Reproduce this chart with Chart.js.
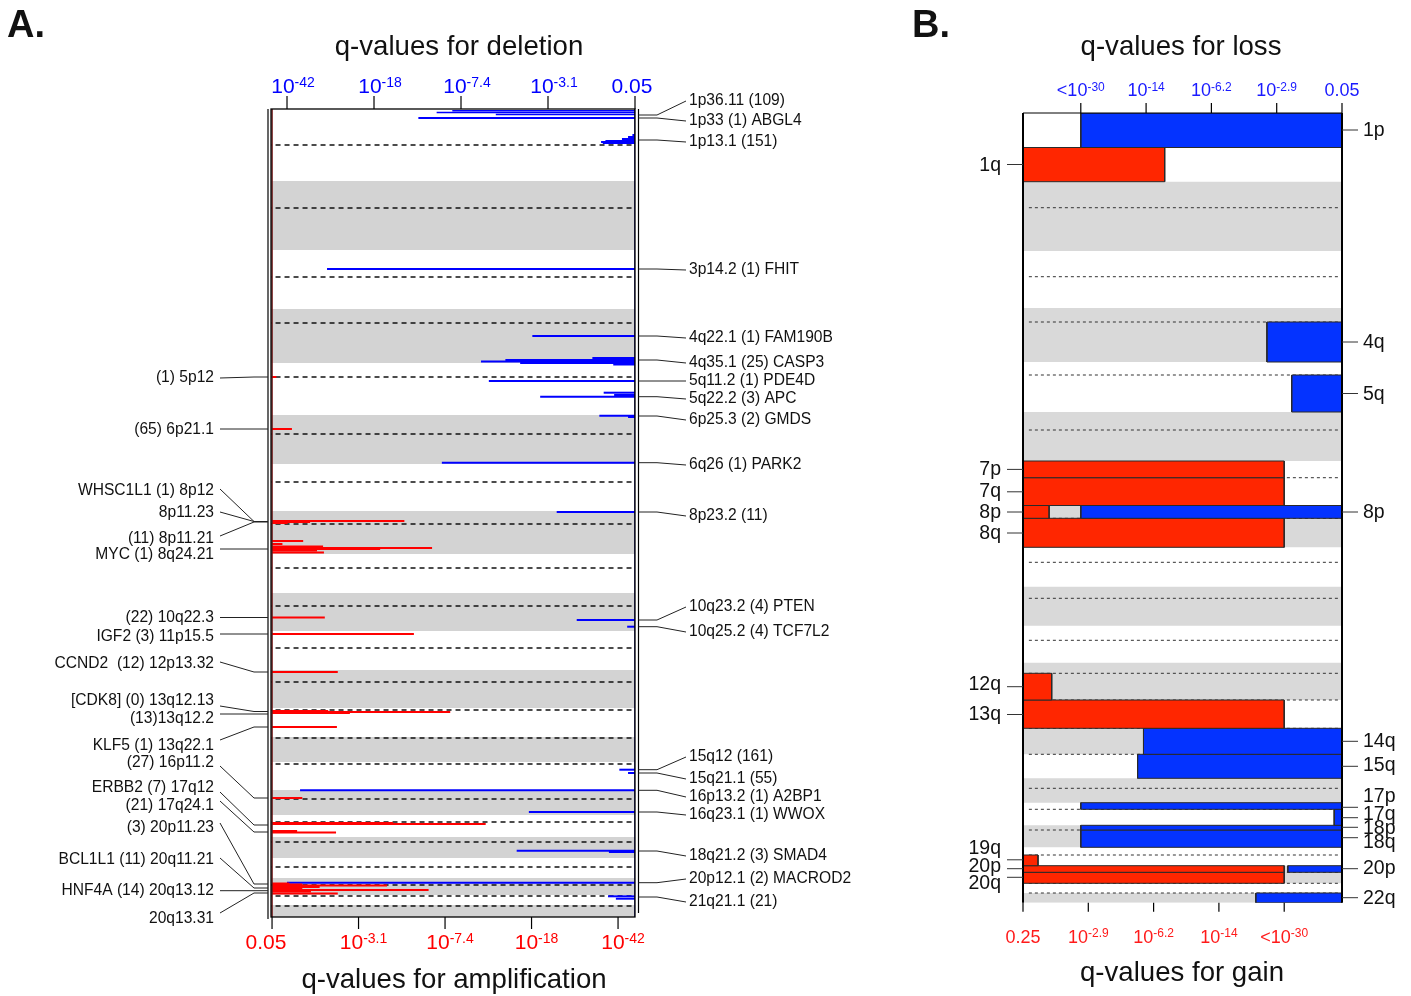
<!DOCTYPE html>
<html>
<head>
<meta charset="utf-8">
<script src="https://cdn.jsdelivr.net/npm/chart.js@4.4.1/dist/chart.umd.min.js"></script>
<style>
  body { margin: 0; background: #fff; width: 1411px; height: 996px; position: relative; overflow: hidden; }
  canvas { position: absolute; top: 0; }
  #panelA { left: 0; }
  #panelB { left: 905px; }
</style>
</head>
<body>
<canvas id="panelA" width="905" height="996"></canvas>
<canvas id="panelB" width="506" height="996"></canvas>
<script>
const FONT = '"Liberation Sans", Arial, Helvetica, sans-serif';

// ---------- Panel A: focal peaks (genome track units, top = chr1p) ----------
const bandEdgesA = [0, 72, 141, 200, 254, 306, 355, 402, 445, 484, 522, 561, 599, 628, 653, 681, 706, 728, 749, 769, 786, 796, 808];
const centromereA = [36, 99, 168, 214, 268, 325, 373, 415, 459, 497, 539, 573, 601, 629, 655, 690, 713, 733, 758, 776, 787, 797];

// amplification peaks: position along genome, q-value on transformed axis (0 = 0.05 ... 4 = 1e-42)
const ampPos = [268, 320, 412, 413, 414, 432, 435, 437.5, 439, 440, 441.5, 443.5, 508.5, 525, 563, 602, 603, 604, 618, 689, 714, 715, 722, 723.5, 774.5, 775.5, 776.5, 778, 779.5, 781, 782.5, 784.5];
const ampQ = [0.05, 0.23, 1.53, 0.44, 0.18, 0.36, 0.12, 0.59, 1.85, 1.25, 0.52, 0.60, 0.61, 1.64, 0.76, 0.65, 2.06, 0.90, 0.75, 0.35, 1.40, 2.47, 0.29, 0.74, 0.20, 0.35, 1.33, 0.55, 0.35, 1.81, 0.45, 0.76];

// deletion peaks
const delPos = [1.7, 3.5, 5.5, 9, 26, 28, 30, 32, 33, 34, 160, 227, 249, 250, 251, 252.5, 254, 255.5, 272, 283.7, 286, 287.7, 306.7, 308, 353.7, 403, 511, 517.7, 660.7, 664, 681.3, 703, 741.7, 743, 773.7, 787.3, 789.7];
const delQ = [2.10, 2.28, 1.60, 2.49, 0.03, 0.08, 0.15, 0.34, 0.39, 0.37, 3.54, 1.18, 0.49, 0.40, 1.49, 1.77, 1.32, 0.25, 1.68, 0.36, 0.24, 1.09, 0.41, 0.08, 2.22, 0.90, 0.67, 0.09, 0.18, 0.08, 3.85, 1.22, 1.36, 0.30, 4.00, 0.31, 0.22];

const ampTickVals = [0, 1, 2, 3, 4];
const ampTickText = ['0.05', '10^-3.1', '10^-7.4', '10^-18', '10^-42'];
const delTickVals = [0, 1, 2, 3, 4];
const delTickText = ['0.05', '10^-3.1', '10^-7.4', '10^-18', '10^-42'];

const ampLabelText = ['(1) 5p12', '(65) 6p21.1', 'WHSC1L1 (1) 8p12', '8p11.23', '(11) 8p11.21', 'MYC (1) 8q24.21', '(22) 10q22.3', 'IGF2 (3) 11p15.5', 'CCND2  (12) 12p13.32', '[CDK8] (0) 13q12.13', '(13)13q12.2', 'KLF5 (1) 13q22.1', '(27) 16p11.2', 'ERBB2 (7) 17q12', '(21) 17q24.1', '(3) 20p11.23', 'BCL1L1 (11) 20q11.21', 'HNF4A (14) 20q13.12', '20q13.31'];
const ampLabelY = [269, 321, 381.7, 404, 430, 446, 509, 528, 555, 591.7, 610, 637, 653.7, 679, 697, 719, 751, 781.7, 810];
const ampLeadY = [269, 320, 380, 403, 427, 440, 508.5, 525, 553, 597, 605, 631, 657, 683, 692, 714, 749, 781.7, 804];
const ampPeakY = [268, 320, 412.5, 412.5, 413, 440, 508.5, 525, 563, 602.5, 605, 618, 689, 716, 723, 775, 779, 781.7, 784];

const delLabelText = ['1p36.11 (109)', '1p33 (1) ABGL4', '1p13.1 (151)', '3p14.2 (1) FHIT', '4q22.1 (1) FAM190B', '4q35.1 (25) CASP3', '5q11.2 (1) PDE4D', '5q22.2 (3) APC', '6p25.3 (2) GMDS', '6q26 (1) PARK2', '8p23.2 (11)', '10q23.2 (4) PTEN', '10q25.2 (4) TCF7L2', '15q12 (161)', '15q21.1 (55)', '16p13.2 (1) A2BP1', '16q23.1 (1) WWOX', '18q21.2 (3) SMAD4', '20p12.1 (2) MACROD2', '21q21.1 (21)'];
const delLabelY = [-8, 12, 33, 161, 229, 254, 272, 290, 311, 356, 407, 498, 523, 648, 670, 688, 706, 747, 770, 793];
const delPeakY = [6, 9, 31, 160, 227, 251, 272, 287.7, 307, 353.7, 403, 511, 517.7, 660.7, 664, 681.3, 703, 742, 773.7, 788];

// ---------- Panel B: arm-level events ----------
const bandEdgesB = [0, 68.7, 138, 195, 249, 299, 348, 392.5, 434.3, 473.7, 512.7, 549.7, 587, 615.3, 641.3, 665.3, 689.7, 712.3, 734.3, 752.7, 770.3, 780, 789.7];
const centromereB = [34.5, 94.7, 163.7, 209, 262, 317, 364.7, 405.3, 449.3, 485.3, 527.3, 560.3, 587, 615.3, 641.3, 675.3, 696.3, 717, 742, 759.3, 770.3, 780];

const armNames = ['1p', '1q', '4q', '5q', '7p', '7q', '8p', '8q', '12q', '13q', '14q', '15q', '17p', '17q', '18p', '18q', '19q', '20p', '20q', '22q'];
const armTop = [0, 34.5, 209, 262, 348, 364.7, 392.5, 405.3, 560.3, 587, 615.3, 641.3, 689.7, 696.3, 712.3, 717, 742, 752.7, 759.3, 780];
const armBottom = [34.5, 68.7, 249, 299, 364.7, 392.5, 405.3, 434.3, 587, 615.3, 641.3, 665.3, 696.3, 712.3, 717, 734.3, 752.7, 759.3, 770.3, 789.7];
const gainQ = [null, 2.17, null, null, 4, 4, 0.40, 4, 0.44, 4, null, null, null, null, null, null, 0.23, 4, 4, null];
const lossQ = [4, null, 1.15, 0.77, null, null, 4, null, null, null, 3.04, 3.13, 4, 0.12, 4, 4, null, 0.83, null, 1.32];

const gainTickVals = [0, 1, 2, 3, 4];
const gainTickText = ['0.25', '10^-2.9', '10^-6.2', '10^-14', '<10^-30'];
const lossTickVals = [0, 1, 2, 3, 4];
const lossTickText = ['0.05', '10^-2.9', '10^-6.2', '10^-14', '<10^-30'];

const gainLabelArms = ['1q', '7p', '7q', '8p', '8q', '12q', '13q', '19q', '20p', '20q'];
const gainLabelY = [53, 357, 379, 400, 421, 572, 602, 736, 754, 771];
const gainLeadY = [51.5, 356.4, 378.8, 399, 420, 573.7, 601.5, 746.8, 755.7, 764.3];
const lossLabelArms = ['1p', '4q', '5q', '8p', '14q', '15q', '17p', '17q', '18p', '18q', '20p', '22q'];
const lossLabelY = [18, 230, 282, 400, 629, 653, 684, 702, 716, 730, 756, 786];
const lossLeadY = [17, 229, 280.5, 399, 628.3, 653.3, 694.3, 704.7, 714.3, 724.7, 755.7, 784.7];

// ---------- helpers ----------
function poly(ctx, pts) {
  ctx.beginPath();
  ctx.moveTo(pts[0][0], pts[0][1]);
  for (let i = 1; i < pts.length; i++) ctx.lineTo(pts[i][0], pts[i][1]);
  ctx.stroke();
}

function drawExp(ctx, txt, cx, baseY, size, color) {
  const parts = txt.split('^');
  const expSize = Math.round(size * 0.68);
  ctx.fillStyle = color;
  ctx.textAlign = 'left';
  ctx.textBaseline = 'alphabetic';
  ctx.font = size + 'px ' + FONT;
  const wb = ctx.measureText(parts[0]).width;
  let we = 0;
  if (parts[1]) {
    ctx.font = expSize + 'px ' + FONT;
    we = ctx.measureText(parts[1]).width;
  }
  const x0 = cx - (wb + we) / 2;
  ctx.font = size + 'px ' + FONT;
  ctx.fillText(parts[0], x0, baseY);
  if (parts[1]) {
    ctx.font = expSize + 'px ' + FONT;
    ctx.fillText(parts[1], x0 + wb, baseY - size * 0.3);
  }
}

function rect(xAxisID, x0, x1, y0, y1, fillColor, lineColor, order) {
  return {
    xAxisID, order,
    data: [{x: x0, y: y0}, {x: x1, y: y0}, {x: x1, y: y1}, {x: x0, y: y1}, {x: x0, y: y0}],
    showLine: true, fill: 'shape', backgroundColor: fillColor,
    borderColor: lineColor || 'rgba(0,0,0,0)', borderWidth: lineColor ? 1 : 0.01,
    pointRadius: 0, tension: 0
  };
}

function hline(xAxisID, x0, x1, y, color, width, dash, order) {
  return {
    xAxisID, order,
    data: [{x: x0, y}, {x: x1, y}],
    showLine: true, fill: false, borderColor: color, borderWidth: width,
    borderDash: dash || [], pointRadius: 0, tension: 0
  };
}

const baseOptions = {
  responsive: false,
  animation: false,
  events: [],
  plugins: { legend: { display: false }, tooltip: { enabled: false } }
};

// ---------- Panel A chart ----------
const dsA = [];
for (let c = 1; c < 22; c += 2) dsA.push(rect('xa', -1, 5, bandEdgesA[c], bandEdgesA[c + 1], '#d3d3d3', null, 30));
centromereA.forEach(c => dsA.push(hline('xa', -1, 5, c, '#111', 1.4, [5, 4], 20)));
ampPos.forEach((p, i) => dsA.push(hline('xa', 0, ampQ[i], p, '#ff0000', 2, null, 5)));
delPos.forEach((p, i) => dsA.push(hline('xd', 0, delQ[i], p, '#0000ff', i < 3 ? 1.4 : 2, null, 5)));
dsA.push({ xAxisID: 'xa', order: 4, data: [{x: 0, y: 0}, {x: 0, y: 808}], showLine: true, borderColor: '#6e1414', borderWidth: 1.5, pointRadius: 0 });
dsA.push({ xAxisID: 'xd', order: 4, data: [{x: 0, y: 0}, {x: 0, y: 808}], showLine: true, borderColor: '#00006e', borderWidth: 1.5, pointRadius: 0 });

const panelAPlugin = {
  id: 'panelA',
  afterDraw(chart) {
    const ctx = chart.ctx, a = chart.chartArea, y = chart.scales.y, xa = chart.scales.xa, xd = chart.scales.xd;
    ctx.save();
    ctx.strokeStyle = '#000';
    ctx.lineWidth = 1.3;
    ctx.strokeRect(a.left, a.top, a.right - a.left, a.bottom - a.top);
    ctx.lineWidth = 1.2;
    poly(ctx, [[a.left - 3, a.top], [a.left - 3, a.bottom + 2]]);
    poly(ctx, [[a.right + 3.5, a.top], [a.right + 3.5, a.bottom - 4]]);

    ctx.lineWidth = 1.2;
    ampTickVals.forEach((v, i) => {
      const px = xa.getPixelForValue(v);
      poly(ctx, [[px, a.bottom], [px, a.bottom + 12]]);
      drawExp(ctx, ampTickText[i], px + (i ? 5 : -6), a.bottom + 32, 21, '#ff0000');
    });
    delTickVals.forEach((v, i) => {
      const px = xd.getPixelForValue(v);
      poly(ctx, [[px, a.top - 13], [px, a.top]]);
      drawExp(ctx, delTickText[i], px + (i ? 6 : -3), a.top - 16, 21, '#0000ff');
    });

    // leader lines + labels
    ctx.lineWidth = 1;
    ctx.strokeStyle = '#222';
    ctx.font = '15.6px ' + FONT;
    ctx.fillStyle = '#111';
    ctx.textBaseline = 'middle';
    ctx.textAlign = 'right';
    ampLabelText.forEach((t, i) => {
      const pk = y.getPixelForValue(ampPeakY[i]);
      poly(ctx, [[220, y.getPixelForValue(ampLeadY[i])], [254, pk], [a.left - 3, pk]]);
      ctx.fillText(t, 214, y.getPixelForValue(ampLabelY[i]));
    });
    ctx.textAlign = 'left';
    delLabelText.forEach((t, i) => {
      const pk = y.getPixelForValue(delPeakY[i]);
      const ly = y.getPixelForValue(delLabelY[i]);
      poly(ctx, [[a.right + 3.5, pk], [657, pk], [686, ly]]);
      ctx.fillText(t, 689, ly);
    });

    // titles
    ctx.textBaseline = 'alphabetic';
    ctx.textAlign = 'center';
    ctx.font = '27.6px ' + FONT;
    ctx.fillStyle = '#111';
    ctx.fillText('q-values for deletion', 459, 55);
    ctx.fillText('q-values for amplification', 454, 988);
    ctx.textAlign = 'left';
    ctx.font = 'bold 38px ' + FONT;
    ctx.fillText('A.', 7, 37);
    ctx.restore();
  }
};

new Chart(document.getElementById('panelA'), {
  type: 'scatter',
  data: { datasets: dsA },
  options: {
    ...baseOptions,
    layout: { padding: { left: 271, right: 270, top: 109, bottom: 79 } },
    scales: {
      xa: { type: 'linear', position: 'bottom', min: -0.012, max: 4.196, display: false },
      xd: { type: 'linear', position: 'top', min: 0, max: 4.184, reverse: true, display: false },
      y: { type: 'linear', min: 0, max: 808, reverse: true, display: false }
    }
  },
  plugins: [panelAPlugin]
});

// ---------- Panel B chart ----------
const dsB = [];
for (let c = 1; c < 22; c += 2) dsB.push(rect('xg', -1, 6, bandEdgesB[c], bandEdgesB[c + 1], '#d9d9d9', null, 30));
centromereB.forEach(c => dsB.push(hline('xg', 0.09, 4.85, c, '#333', 1, [3, 3], 20)));
armNames.forEach((arm, i) => {
  if (gainQ[i] != null) dsB.push(rect('xg', 0, gainQ[i], armTop[i], armBottom[i], '#ff2600', '#2a2a2a', 5));
  if (lossQ[i] != null) dsB.push(rect('xl', 0, lossQ[i], armTop[i], armBottom[i], '#0433ff', '#2a2a2a', 5));
});

const panelBPlugin = {
  id: 'panelB',
  afterDraw(chart) {
    const ctx = chart.ctx, a = chart.chartArea, y = chart.scales.y, xg = chart.scales.xg, xl = chart.scales.xl;
    ctx.save();
    ctx.strokeStyle = '#000';
    ctx.lineWidth = 1;
    poly(ctx, [[a.left, a.top], [a.right, a.top]]);
    ctx.lineWidth = 2;
    poly(ctx, [[a.left, a.top], [a.left, a.bottom]]);
    poly(ctx, [[a.right, a.top], [a.right, a.bottom]]);

    ctx.lineWidth = 1.2;
    gainTickVals.forEach((v, i) => {
      const px = xg.getPixelForValue(v);
      poly(ctx, [[px, a.bottom], [px, a.bottom + 9]]);
      drawExp(ctx, gainTickText[i], px, a.bottom + 40, 18, '#ff1a1a');
    });
    lossTickVals.forEach((v, i) => {
      const px = xl.getPixelForValue(v);
      poly(ctx, [[px, a.top - 10], [px, a.top]]);
      drawExp(ctx, lossTickText[i], px, a.top - 17, 18, '#1a1aff');
    });

    ctx.lineWidth = 1;
    ctx.strokeStyle = '#333';
    ctx.font = '19.5px ' + FONT;
    ctx.fillStyle = '#111';
    ctx.textBaseline = 'middle';
    ctx.textAlign = 'right';
    gainLabelArms.forEach((t, i) => {
      const ly = y.getPixelForValue(gainLeadY[i]);
      poly(ctx, [[a.left - 16, ly], [a.left, ly]]);
      ctx.fillText(t, a.left - 22, y.getPixelForValue(gainLabelY[i]));
    });
    ctx.textAlign = 'left';
    lossLabelArms.forEach((t, i) => {
      const ly = y.getPixelForValue(lossLeadY[i]);
      poly(ctx, [[a.right, ly], [a.right + 16, ly]]);
      ctx.fillText(t, a.right + 21, y.getPixelForValue(lossLabelY[i]));
    });

    ctx.textBaseline = 'alphabetic';
    ctx.textAlign = 'center';
    ctx.font = '27.6px ' + FONT;
    ctx.fillText('q-values for loss', 276, 55);
    ctx.fillText('q-values for gain', 277, 981);
    ctx.textAlign = 'left';
    ctx.font = 'bold 38px ' + FONT;
    ctx.fillText('B.', 7, 37);
    ctx.restore();
  }
};

new Chart(document.getElementById('panelB'), {
  type: 'scatter',
  data: { datasets: dsB },
  options: {
    ...baseOptions,
    layout: { padding: { left: 118, right: 69, top: 113, bottom: 93.3 } },
    scales: {
      xg: { type: 'linear', position: 'bottom', min: 0, max: 4.885, display: false },
      xl: { type: 'linear', position: 'top', min: 0, max: 4.885, reverse: true, display: false },
      y: { type: 'linear', min: 0, max: 789.7, reverse: true, display: false }
    }
  },
  plugins: [panelBPlugin]
});
</script>
</body>
</html>
